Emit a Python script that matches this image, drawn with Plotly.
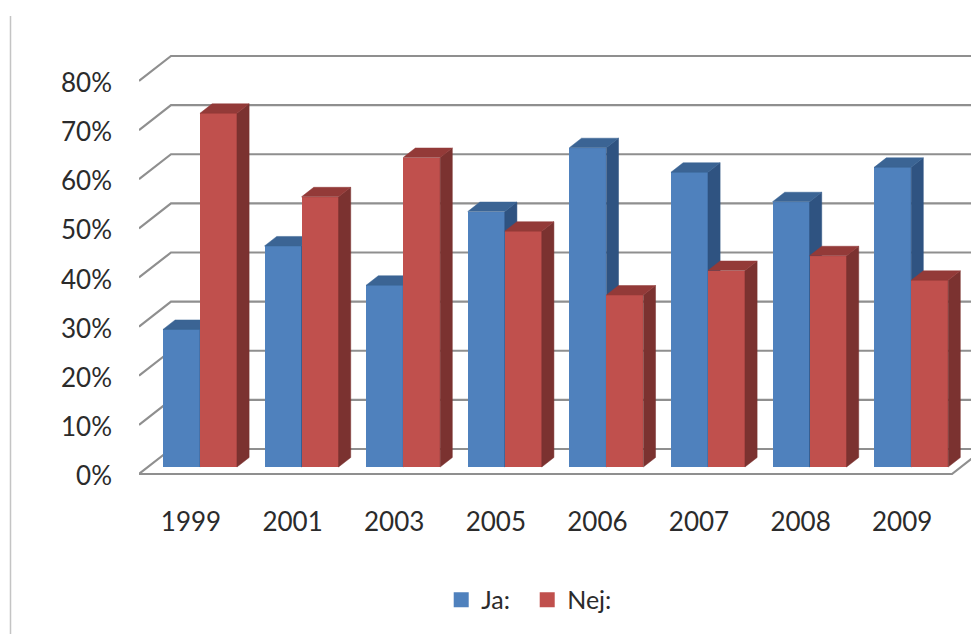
import plotly.graph_objects as go

years = ["1999", "2001", "2003", "2005", "2006", "2007", "2008", "2009"]
ja = [28, 45, 37, 52, 65, 60, 54, 61]
nej = [72, 55, 63, 48, 35, 40, 43, 38]
y_ticks = [0, 10, 20, 30, 40, 50, 60, 70, 80]
y_labels = ["0%", "10%", "20%", "30%", "40%", "50%", "60%", "70%", "80%"]

W, H = 971, 634
L, R, T, B = 139, 971, 50, 480
X0_PX, X_UNIT = 191.0, 101.6
Y0_PX, Y_UNIT = 474.0, 4.9125
xr = [(L - X0_PX) / X_UNIT, (R - X0_PX) / X_UNIT]
yr = [(Y0_PX - B) / Y_UNIT, (Y0_PX - T) / Y_UNIT]

DX, DY = 32 / X_UNIT, 25 / Y_UNIT       # full floor depth in data units
FRONT, BACK = 0.28, 0.66                # bar depth limits as floor fractions
BAR_W = 37 / X_UNIT
FLOOR_END = (952 - X0_PX) / X_UNIT
GRID = "#8f8f8f"
TXT = "#2b2b2b"
FONT = "Lato, Carlito, sans-serif"

fig = go.Figure()


def polys(items):
    xs, ys = [], []
    for p in items:
        xs += [a for a, _ in p] + [p[0][0], None]
        ys += [b for _, b in p] + [p[0][1], None]
    return xs, ys


def face(items, color, ax):
    xs, ys = polys(items)
    fig.add_trace(go.Scatter(x=xs, y=ys, mode="lines", fill="toself", fillcolor=color,
                             line=dict(width=0.5, color=color), hoverinfo="skip",
                             showlegend=False, xaxis=ax[0], yaxis=ax[1]))


# wall grid lines and the floor outline
gx, gy = [], []
for v in y_ticks:
    gx += [xr[0], xr[0] + DX, xr[1], None]
    gy += [v, v + DY, v + DY, None]
gx += [xr[0], FLOOR_END, FLOOR_END + DX, None]
gy += [0, 0, DY, None]
fig.add_trace(go.Scatter(x=gx, y=gy, mode="lines", line=dict(color=GRID, width=2.2),
                         hoverinfo="skip", showlegend=False,
                         xaxis="x", yaxis="y"))


def series(name, values, offset, front, side, top, ax):
    base = FRONT * DY
    xc = [i + FRONT * DX + offset for i in range(len(values))]
    fig.add_trace(go.Bar(x=xc, y=values, base=base, width=BAR_W, name=name,
                         marker=dict(color=front, line=dict(width=0)),
                         showlegend=False, xaxis=ax[0], yaxis=ax[1]))
    d = (BACK - FRONT) * DX
    e = (BACK - FRONT) * DY
    sides, tops = [], []
    for x, v in zip(xc, values):
        x0, x1 = x - BAR_W / 2, x + BAR_W / 2
        t = base + v
        sides.append([(x1, base), (x1 + d, base + e), (x1 + d, t + e), (x1, t)])
        tops.append([(x0, t), (x1, t), (x1 + d, t + e), (x0 + d, t + e)])
    face(sides, side, ax)
    face(tops, top, ax)
    fig.add_trace(go.Scatter(x=[None], y=[None], mode="markers", name=name,
                             marker=dict(symbol="square", size=15, color=front),
                             xaxis=ax[0], yaxis=ax[1]))


series("Ja:", ja, -BAR_W / 2, "#4F81BD", "#2F5381", "#3B6494", ("x2", "y2"))
series("Nej:", nej, BAR_W / 2, "#C0504D", "#7B3230", "#933A38", ("x3", "y3"))

hidden = dict(visible=False, fixedrange=True)
fig.update_layout(
    width=W, height=H, autosize=False,
    margin=dict(l=L, r=W - R, t=T, b=H - B, pad=0),
    paper_bgcolor="white", plot_bgcolor="white",
    barmode="overlay", bargap=0,
    font=dict(family=FONT, size=26, color=TXT),
    xaxis=dict(range=xr, tickmode="array", tickvals=list(range(len(years))), ticktext=years,
               showgrid=False, zeroline=False, showline=False, ticks="",
               ticklabelstandoff=24, tickfont=dict(size=26, color=TXT), fixedrange=True),
    yaxis=dict(range=yr, tickmode="array", tickvals=y_ticks, ticktext=y_labels,
               showgrid=False, zeroline=False, showline=False, ticks="",
               ticklabelstandoff=26, ticklabelshift=2, tickfont=dict(size=26, color=TXT),
               fixedrange=True),
    xaxis2=dict(range=xr, overlaying="x", **hidden),
    yaxis2=dict(range=yr, overlaying="y", **hidden),
    xaxis3=dict(range=xr, overlaying="x", **hidden),
    yaxis3=dict(range=yr, overlaying="y", **hidden),
    legend=dict(orientation="h", x=0.4666, xanchor="center", y=-0.279, yanchor="middle",
                font=dict(size=25, color=TXT), bgcolor="rgba(0,0,0,0)",
                itemwidth=30, entrywidth=41, entrywidthmode="pixels", traceorder="normal"),
    shapes=[dict(type="line", xref="paper", yref="paper",
                 x0=(10.5 - L) / (R - L), x1=(10.5 - L) / (R - L),
                 y0=(B - 16) / (B - T), y1=(B - H) / (B - T),
                 line=dict(color="#c4c4c4", width=1.5))],
)

fig.write_html("out.html", config={"displayModeBar": False},
               post_script="document.body.style.margin='0';document.documentElement.style.overflow='hidden';")
